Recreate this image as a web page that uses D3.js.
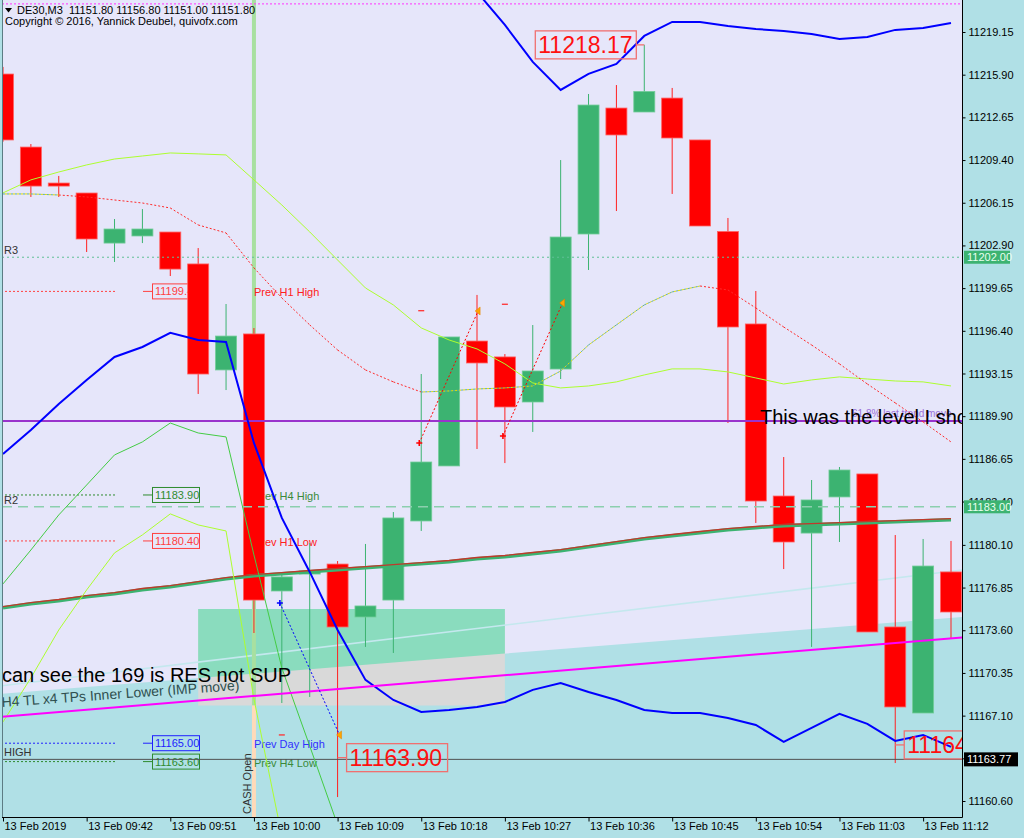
<!DOCTYPE html>
<html>
<head>
<meta charset="utf-8">
<script src="https://cdn.jsdelivr.net/npm/d3@7/dist/d3.min.js"></script>
<style>
html,body{margin:0;padding:0;background:#B0E0E6;}
svg{display:block;font-family:"Liberation Sans",Arial,sans-serif;}
</style>
</head>
<body>
<svg id="chart" width="1024" height="838"></svg>
<script>
// ---------------- data ----------------
const times = ["09:33","09:36","09:39","09:42","09:45","09:48","09:51","09:54","09:57","10:00","10:03","10:06","10:09","10:12","10:15","10:18","10:21","10:24","10:27","10:30","10:33","10:36","10:39","10:42","10:45","10:48","10:51","10:54","10:57","11:00","11:03","11:06","11:09","11:12","11:15"];
const xTickIdx = [0,3,6,9,12,15,18,21,24,27,30,33];
const xTickLabels = ["13 Feb 2019","13 Feb 09:42","13 Feb 09:51","13 Feb 10:00","13 Feb 10:09","13 Feb 10:18","13 Feb 10:27","13 Feb 10:36","13 Feb 10:45","13 Feb 10:54","13 Feb 11:03","13 Feb 11:12"];
const yTickValues = [11219.15,11215.90,11212.65,11209.40,11206.15,11202.90,11199.65,11196.40,11193.15,11189.90,11186.65,11183.40,11180.10,11176.85,11173.60,11170.35,11167.10,11163.85,11160.60];

const opens  = [11215.95,11210.39,11207.65,11206.89,11203.08,11203.62,11203.92,11201.49,11193.42,11196.16,11176.59,11177.88,11178.64,11174.61,11175.90,11181.92,11186.11,11195.62,11194.41,11190.98,11193.49,11203.77,11213.36,11213.06,11214.12,11210.93,11203.96,11196.92,11183.82,11181.00,11183.75,11185.50,11173.85,11167.30,11178.04];
const highs  = [11216.49,11210.62,11208.19,11206.89,11204.91,11205.67,11203.92,11202.70,11198.44,11196.61,11177.96,11180.24,11178.87,11180.17,11182.60,11193.11,11195.93,11199.13,11194.63,11196.84,11209.40,11214.43,11215.11,11218.17,11214.89,11210.93,11204.99,11199.43,11186.79,11185.04,11186.03,11185.50,11180.85,11180.55,11180.40];
const lows   = [11210.80,11206.59,11206.59,11202.40,11201.64,11203.08,11200.57,11191.59,11191.89,11173.39,11168.06,11168.52,11160.90,11172.33,11171.87,11181.16,11186.11,11187.40,11186.33,11188.70,11192.73,11201.03,11205.52,11213.06,11206.82,11204.38,11189.38,11181.77,11178.26,11172.33,11180.32,11173.47,11163.49,11167.30,11173.01];
const closes = [11210.93,11207.42,11207.42,11203.39,11204.15,11204.15,11201.10,11193.11,11196.00,11175.90,11177.66,11178.11,11173.85,11175.45,11182.15,11186.41,11195.93,11193.95,11190.60,11193.34,11203.54,11213.59,11211.31,11214.62,11211.08,11204.38,11196.69,11183.44,11180.32,11183.52,11185.80,11173.47,11167.76,11178.49,11174.99];

const lowerBlue = [11187.02,11188.85,11190.83,11192.66,11194.41,11195.17,11196.24,11195.70,11195.55,11187.86,11182.15,11178.04,11173.62,11169.82,11168.29,11167.38,11167.53,11167.76,11168.14,11169.06,11169.59,11168.90,11168.29,11167.53,11167.30,11167.30,11166.92,11166.39,11165.10,11166.16,11167.23,11166.47,11165.17,11165.63,11164.72];
const upperBlueStart = 16;
const upperBlue = [11224.64,11222.20,11219.69,11216.87,11214.74,11215.96,11216.72,11218.85,11219.92,11219.92,11219.61,11219.38,11219.23,11219.00,11218.62,11218.77,11219.31,11219.46,11219.84];
const upperYG = [11206.90,11207.89,11208.49,11209.03,11209.48,11209.71,11209.94,11209.87,11209.79,11207.89,11205.98,11203.93,11201.79,11199.66,11198.37,11196.62,11195.70,11195.02,11193.88,11192.43,11192.05,11192.20,11192.51,11193.04,11193.50,11193.50,11193.27,11192.81,11192.35,11192.66,11192.89,11192.73,11192.58,11192.51,11192.20];
const lowerLime = [11177.13,11179.71,11182.38,11184.66,11186.95,11187.94,11189.38,11188.62,11188.32,11179.33,11170.73,11164.79,11158.78];
const lowerYG = [11166.62,11169.97,11173.62,11176.67,11179.49,11180.86,11182.46,11181.62,11181.16,11168.37,11157.94];
const dottedMA = [11206.82,11206.82,11206.74,11206.59,11206.36,11206.13,11205.75,11204.46,11203.85,11201.19,11198.90,11196.85,11194.94,11193.42,11192.51,11191.74,11191.82,11191.97,11192.05,11192.20,11193.34,11195.32,11196.85,11198.37,11199.36,11199.81,11199.51,11198.14,11196.69,11195.32,11193.88,11192.35,11190.91,11189.46,11187.94];
const ma169 = [11175.37,11175.68,11175.91,11176.21,11176.44,11176.75,11176.97,11177.28,11177.58,11177.81,11177.96,11178.12,11178.27,11178.42,11178.57,11178.72,11178.88,11179.11,11179.26,11179.49,11179.71,11180.02,11180.32,11180.63,11180.86,11181.09,11181.31,11181.47,11181.62,11181.69,11181.77,11181.85,11181.92,11182.00,11182.07];

// trend lines: [barIndex, price]
const lavenderEdge = [[-1,11168.60],[35,11174.71]];
const cyanTL = [[-1,11169.13],[35,11178.34]];
const magentaTL = [[-1,11166.84],[35,11173.16]];

const zoneIdx = [7,18];
const zonePrice = [11175.22,11167.87];
const cashIdx = 9;

const pivotNames = ["R3","R2"];
const pivotPrices = [11202.00,11183.00];
const levelPurple = 11189.54;
const bidPrice = 11163.77;
const topDotted = 11221.29;

const prevLabels = ["Prev H1 High","Prev H4 High","Prev H1 Low","Prev Day High","Prev H4 Low"];
const prevPrices = [11199.40,11183.90,11180.40,11165.00,11163.60];

const tradeOpenIdx = [14.93,17.93,9.93];
const tradeOpenPrice = [11187.86,11188.39,11175.68];
const tradeCloseIdx = [17.04,20.07,12.07];
const tradeClosePrice = [11197.91,11198.52,11165.63];
const stopIdx = [15,18,10];
const stopPrice = [11197.93,11198.42,11165.63];

const bigLabelText = ["11218.17","11163.90","11164.87"];
const bigLabelIdx = [23,12,32];
const bigLabelPrice = [11218.17,11163.90,11164.87];

// ---------------- layout / scales ----------------
const W=1024,H=838,PL=2,PR=962,PT=0,PB=817;
const x = d3.scaleLinear().domain([0,34]).range([3,951]);
const y = d3.scaleLinear().domain([11160.60,11219.15]).range([801,32]);
const svg = d3.select('#chart');
svg.append('rect').attr('width',W).attr('height',H).attr('fill','#B0E0E6');
svg.append('defs').append('clipPath').attr('id','plotClip')
  .append('rect').attr('x',PL).attr('y',PT).attr('width',PR-PL).attr('height',PB-PT);
const g = svg.append('g').attr('clip-path','url(#plotClip)');
const edgeAt = (arr,i)=>arr[0][1]+(arr[1][1]-arr[0][1])*(i-arr[0][0])/(arr[1][0]-arr[0][0]);
const line = d3.line();

// lavender upper area
const iL = x.invert(PL), iR = x.invert(PR);
g.append('path').attr('d', line([[PL,PT],[PR,PT],[PR,y(edgeAt(lavenderEdge,iR))],[PL,y(edgeAt(lavenderEdge,iL))]])+'Z').attr('fill','#E6E6FA');

// zone rectangle
const rx0=x(zoneIdx[0]), rx1=x(zoneIdx[1]), ry0=y(zonePrice[0]), ry1=y(zonePrice[1]);
g.append('rect').attr('x',rx0).attr('y',ry0).attr('width',rx1-rx0).attr('height',ry1-ry0).attr('fill','#D9D9D9');
g.append('path').attr('d', line([[rx0,ry0],[rx1,ry0],[rx1,y(edgeAt(lavenderEdge,zoneIdx[1]))],[rx0,y(edgeAt(lavenderEdge,zoneIdx[0]))]])+'Z').attr('fill','#8ADCBE');

// pale cyan trendline
g.append('line').attr('x1',x(cyanTL[0][0])).attr('y1',y(cyanTL[0][1])).attr('x2',x(cyanTL[1][0])).attr('y2',y(cyanTL[1][1]))
  .attr('stroke','#C4E8EE').attr('stroke-width',1.6);

// cash open vertical
g.append('rect').attr('x',x(cashIdx)-2).attr('y',PT).attr('width',4).attr('height',ry1-PT).attr('fill','#A8E0A0');
g.append('rect').attr('x',x(cashIdx)-2).attr('y',ry1).attr('width',4).attr('height',PB-ry1).attr('fill','#FFDAB9');
g.append('text').attr('transform',`translate(${x(cashIdx)-3},${PB-3}) rotate(-90)`).attr('font-size',11).attr('fill','#333').text('CASH Open');

// previous levels (left)
const prevStyle = [
  {line:'#FF4040',box:'#FF4040',text:'#FF2020'},
  {line:'#2E8B2E',box:'#2E8B2E',text:'#3A8A3A'},
  {line:'#FF4040',box:'#FF4040',text:'#FF2020'},
  {line:'#2020FF',box:'#2020FF',text:'#3030FF'},
  {line:'#2E8B2E',box:'#2E8B2E',text:'#3A8A3A'}];
prevPrices.forEach((p,k)=>{
  const yy=y(p), s=prevStyle[k];
  g.append('line').attr('x1',5).attr('x2',115).attr('y1',yy).attr('y2',yy).attr('stroke',s.line).attr('stroke-dasharray','2,2');
  g.append('line').attr('x1',143).attr('x2',152).attr('y1',yy).attr('y2',yy).attr('stroke',s.box);
  g.append('rect').attr('x',152.5).attr('y',yy-7.5).attr('width',47).attr('height',15).attr('fill','none').attr('stroke',s.box);
  g.append('text').attr('x',155).attr('y',yy+4).attr('font-size',11).attr('fill',s.box).text(p.toFixed(2));
  g.append('text').attr('x',x(cashIdx)).attr('y',yy+5).attr('font-size',11).attr('fill',s.text).text(prevLabels[k]);
});

// candles
const cg = g.append('g');
opens.forEach((o,i)=>{
  const up = closes[i]>=o;
  cg.append('line').attr('x1',x(i)).attr('x2',x(i)).attr('y1',y(highs[i])).attr('y2',y(lows[i]))
    .attr('stroke',up?'#3CB371':'#FF2020').attr('stroke-width',1);
  const top=y(Math.max(o,closes[i])), bot=y(Math.min(o,closes[i]));
  cg.append('rect').attr('x',x(i)-10.5).attr('y',top).attr('width',21).attr('height',Math.max(1.5,bot-top))
    .attr('fill',up?'#3CB371':'#FF0000').attr('stroke',up?'#72CC98':'#FF6262').attr('stroke-width',0.8);
});

// horizontal lines
g.append('line').attr('x1',PL).attr('x2',PR).attr('y1',y(pivotPrices[0])).attr('y2',y(pivotPrices[0])).attr('stroke','#5FBF95').attr('stroke-dasharray','2,3');
g.append('line').attr('x1',PL).attr('x2',PR).attr('y1',y(pivotPrices[1])).attr('y2',y(pivotPrices[1])).attr('stroke','#8CCFAE').attr('stroke-width',1.5).attr('stroke-dasharray','10,6');
g.append('line').attr('x1',PL).attr('x2',PR).attr('y1',y(topDotted)).attr('y2',y(topDotted)).attr('stroke','#FF33FF').attr('stroke-dasharray','2,2');
g.append('line').attr('x1',PL).attr('x2',PR).attr('y1',y(bidPrice)).attr('y2',y(bidPrice)).attr('stroke','#505050');
g.append('line').attr('x1',PL).attr('x2',PR).attr('y1',y(levelPurple)).attr('y2',y(levelPurple)).attr('stroke','#9933CC').attr('stroke-width',2);
pivotNames.forEach((n,k)=>{
  g.append('text').attr('x',4).attr('y',y(pivotPrices[k])-3).attr('font-size',11).attr('fill','#333').text(n);
});
g.append('text').attr('x',4).attr('y',y(bidPrice)-3).attr('font-size',11).attr('fill','#333').text('HIGH');

// MA 169
const lineIdx = (arr,start=0)=>d3.line().x((d,i)=>x(i+start)).y(d=>y(d))(arr);
g.append('path').attr('d',lineIdx(ma169)).attr('fill','none').attr('stroke','#3CB371').attr('stroke-width',3.5).attr('transform','translate(0,0.8)');
g.append('path').attr('d',lineIdx(ma169)).attr('fill','none').attr('stroke','#C0392B').attr('stroke-width',1.3).attr('transform','translate(0,-0.4)');

// band indicators
g.append('path').attr('d',lineIdx(lowerLime)).attr('fill','none').attr('stroke','#44CC44').attr('stroke-width',1);
g.append('path').attr('d',lineIdx(lowerYG)).attr('fill','none').attr('stroke','#ADFF2F').attr('stroke-width',1);
g.append('path').attr('d',lineIdx(upperYG)).attr('fill','none').attr('stroke','#ADFF2F').attr('stroke-width',1);
g.append('path').attr('d',lineIdx(lowerBlue)).attr('fill','none').attr('stroke','#0000FF').attr('stroke-width',2);
g.append('path').attr('d',lineIdx(upperBlue,upperBlueStart)).attr('fill','none').attr('stroke','#0000FF').attr('stroke-width',2);

// dotted coloured MA
for(let i=0;i<dottedMA.length-1;i++){
  const d=dottedMA[i+1]-dottedMA[i];
  const rising = d>-0.1;
  const seg = [[x(i),y(dottedMA[i])],[x(i+1),y(dottedMA[i+1])]];
  if(rising){
    g.append('path').attr('d',line(seg)).attr('stroke','#E8E000').attr('stroke-width',1).attr('stroke-dasharray','2,2').attr('stroke-dashoffset',2);
  }
  g.append('path').attr('d',line(seg)).attr('stroke',rising?'#5FAFA0':'#FF2A2A').attr('stroke-width',1).attr('stroke-dasharray','2,2');
}

// magenta trendline
g.append('line').attr('x1',x(magentaTL[0][0])).attr('y1',y(magentaTL[0][1])).attr('x2',x(magentaTL[1][0])).attr('y2',y(magentaTL[1][1]))
  .attr('stroke','#FF00FF').attr('stroke-width',2);

// trades
const tradeCol = ['#FF0000','#FF0000','#0000FF'];
tradeOpenIdx.forEach((ti,k)=>{
  const x0=x(ti),y0=y(tradeOpenPrice[k]),x1=x(tradeCloseIdx[k]),y1=y(tradeClosePrice[k]);
  g.append('line').attr('x1',x0).attr('y1',y0).attr('x2',x1).attr('y2',y1).attr('stroke',tradeCol[k]).attr('stroke-dasharray','2,2');
  g.append('path').attr('d',`M${x0-3},${y0}H${x0+3}M${x0},${y0-3}V${y0+3}`).attr('stroke',tradeCol[k]).attr('stroke-width',1.6);
  g.append('path').attr('d',`M${x1-3},${y1}L${x1+2},${y1-4}L${x1+2},${y1+4}Z`).attr('fill','#FFA500').attr('stroke','#E08000').attr('stroke-width',0.5);
});
stopIdx.forEach((si,k)=>{
  g.append('line').attr('x1',x(si)-3).attr('x2',x(si)+3).attr('y1',y(stopPrice[k])).attr('y2',y(stopPrice[k])).attr('stroke','#FF3030').attr('stroke-width',1.3);
});

// big price labels
bigLabelText.forEach((t,k)=>{
  const cx=x(bigLabelIdx[k]), cy=y(bigLabelPrice[k]);
  const left = k===0;
  const bx = left ? cx-8-101 : cx+9;
  g.append('line').attr('x1',left?cx-8:cx).attr('x2',left?cx:cx+9).attr('y1',cy).attr('y2',cy).attr('stroke','#F07070').attr('stroke-width',1.3);
  g.append('rect').attr('x',bx).attr('y',cy-14).attr('width',101).attr('height',28).attr('fill','none').attr('stroke','#F07070').attr('stroke-width',1.3);
  g.append('text').attr('x',bx+3).attr('y',cy+8.5).attr('font-size',23).attr('fill','#FF1010').text(t);
});

// annotation texts
g.append('text').attr('x',852).attr('y',y(levelPurple)-4).attr('font-size',10).attr('fill','#9A70D8').text('61.8% last trend move');
g.append('text').attr('x',760).attr('y',424).attr('font-size',20).attr('fill','#000').text('This was the level I should have watched');
g.append('text').attr('x',2).attr('y',682).attr('font-size',20).attr('fill','#000').text('can see the 169 is RES not SUP');
g.append('text').attr('transform','translate(2,707) rotate(-4.1)').attr('font-size',14).attr('fill','#2F4F4F').text('H4 TL x4 TPs Inner Lower (IMP move)');

// header
g.append('path').attr('d','M5,8H12L8.5,12.5Z').attr('fill','#000');
g.append('text').attr('x',17).attr('y',14).attr('font-size',11).attr('fill','#000').style('white-space','pre').text('DE30,M3  11151.80 11156.80 11151.00 11151.80');
g.append('text').attr('x',5).attr('y',25).attr('font-size',11).attr('fill','#000').text('Copyright \u00A9 2016, Yannick Deubel, quivofx.com');

// frame
svg.append('line').attr('x1',2.5).attr('x2',2.5).attr('y1',0).attr('y2',PB).attr('stroke','#5C7C84');
svg.append('line').attr('x1',PR+0.5).attr('x2',PR+0.5).attr('y1',0).attr('y2',PB+0.5).attr('stroke','#000');
svg.append('line').attr('x1',2).attr('x2',PR+0.5).attr('y1',PB+0.5).attr('y2',PB+0.5).attr('stroke','#000');

// right axis
const ay = svg.append('g').attr('transform',`translate(${PR+0.5},0)`)
  .call(d3.axisRight(y).tickValues(yTickValues).tickFormat(d=>d.toFixed(2)).tickSize(3).tickPadding(3));
ay.select('.domain').remove();
ay.selectAll('text').attr('font-size',11).attr('font-family','"Liberation Sans",Arial,sans-serif').attr('fill','#000');
ay.selectAll('line').attr('stroke','#000');

// bottom axis
const ax = svg.append('g').attr('transform',`translate(0,${PB+0.5})`)
  .call(d3.axisBottom(x).tickValues(xTickIdx).tickFormat((d,i)=>xTickLabels[i]).tickSize(4).tickPadding(1));
ax.select('.domain').remove();
ax.selectAll('text').attr('text-anchor','start').attr('x',1).attr('font-size',11).attr('font-family','"Liberation Sans",Arial,sans-serif').attr('fill','#000');
ax.selectAll('line').attr('stroke','#000');

// axis price boxes
pivotPrices.forEach(p=>{
  svg.append('rect').attr('x',PR+2).attr('y',y(p)-6.5).attr('width',46).attr('height',13).attr('fill','#3CB371');
  svg.append('text').attr('x',PR+5).attr('y',y(p)+4).attr('font-size',11).attr('fill','#E8FFF0').text(p.toFixed(2));
});
svg.append('rect').attr('x',PR+2).attr('y',y(bidPrice)-7).attr('width',54).attr('height',14).attr('fill','#000');
svg.append('text').attr('x',PR+5).attr('y',y(bidPrice)+4).attr('font-size',11).attr('fill','#FFF').text(bidPrice.toFixed(2));
</script>
</body>
</html>
